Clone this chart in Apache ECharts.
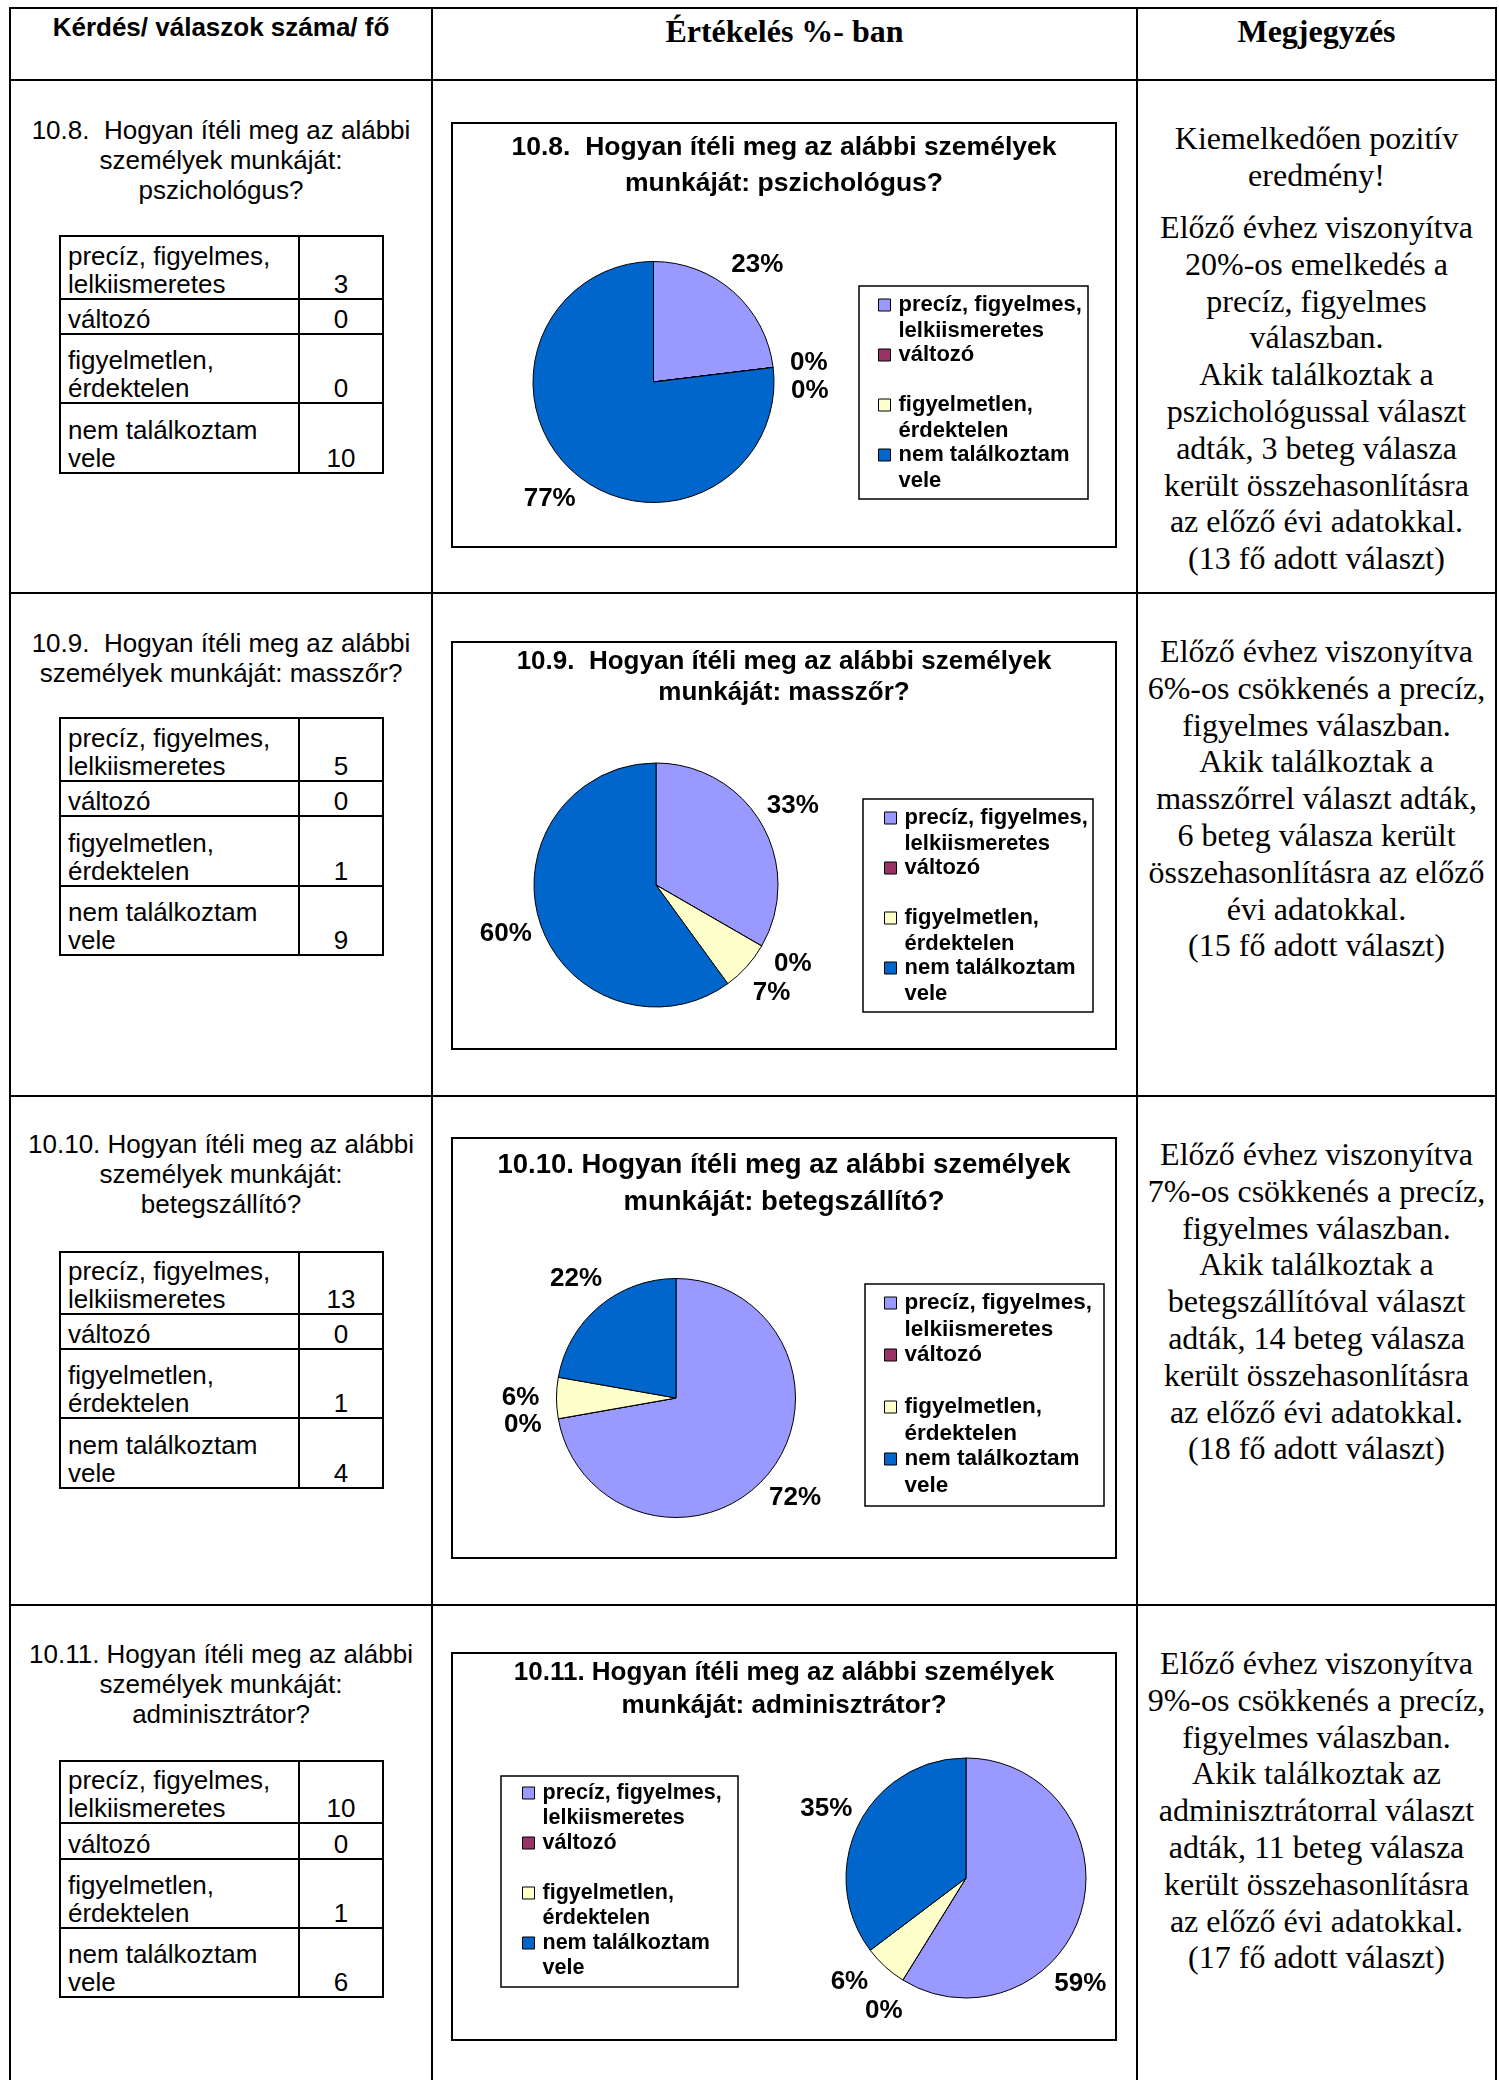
<!DOCTYPE html>
<html lang="hu">
<head>
<meta charset="utf-8">
<title>Értékelés</title>
<script src="https://cdn.jsdelivr.net/npm/echarts@6/dist/echarts.min.js"></script>
<style>
  html, body { margin: 0; padding: 0; background: #fff; }
  #page { position: relative; width: 1499px; height: 2080px; overflow: hidden; background: #fff; }
  .line { position: absolute; background: #000; }
  .txt { position: absolute; white-space: pre; color: #000; text-align: center; }
  .sans { font-family: "Liberation Sans", Arial, sans-serif; }
  .serif { font-family: "Liberation Serif", "Times New Roman", serif; }
  .chart { position: absolute; }
</style>
</head>
<body>
<div id="page"></div>
<script>
// ---- data ---------------------------------------------------------------
const headers = ['Kérdés/ válaszok száma/ fő', 'Értékelés %- ban', 'Megjegyzés'];

const categories = [
  'precíz, figyelmes,\nlelkiismeretes',
  'változó',
  'figyelmetlen,\nérdektelen',
  'nem találkoztam\nvele'
];

const sliceColors = ['#9999FF', '#993366', '#FFFFCC', '#0066CC'];

const psychologistCounts = [3, 0, 0, 10];
const masseurCounts = [5, 0, 1, 9];
const transporterCounts = [13, 0, 1, 4];
const administratorCounts = [10, 0, 1, 6];

const questionLines = [
  ['10.8.  Hogyan ítéli meg az alábbi', 'személyek munkáját:', 'pszichológus?'],
  ['10.9.  Hogyan ítéli meg az alábbi', 'személyek munkáját: masszőr?'],
  ['10.10. Hogyan ítéli meg az alábbi', 'személyek munkáját:', 'betegszállító?'],
  ['10.11. Hogyan ítéli meg az alábbi', 'személyek munkáját:', 'adminisztrátor?']
];

const chartTitles = [
  ['10.8.  Hogyan ítéli meg az alábbi személyek', 'munkáját: pszichológus?'],
  ['10.9.  Hogyan ítéli meg az alábbi személyek', 'munkáját: masszőr?'],
  ['10.10. Hogyan ítéli meg az alábbi személyek', 'munkáját: betegszállító?'],
  ['10.11. Hogyan ítéli meg az alábbi személyek', 'munkáját: adminisztrátor?']
];

const commentParagraphs = [
  [
    ['Kiemelkedően pozitív', 'eredmény!'],
    ['Előző évhez viszonyítva', '20%-os emelkedés a', 'precíz, figyelmes', 'válaszban.',
     'Akik találkoztak a', 'pszichológussal választ', 'adták, 3 beteg válasza',
     'került összehasonlításra', 'az előző évi adatokkal.', '(13 fő adott választ)']
  ],
  [
    ['Előző évhez viszonyítva', '6%-os csökkenés a precíz,', 'figyelmes válaszban.',
     'Akik találkoztak a', 'masszőrrel választ adták,', '6 beteg válasza került',
     'összehasonlításra az előző', 'évi adatokkal.', '(15 fő adott választ)']
  ],
  [
    ['Előző évhez viszonyítva', '7%-os csökkenés a precíz,', 'figyelmes válaszban.',
     'Akik találkoztak a', 'betegszállítóval választ', 'adták, 14 beteg válasza',
     'került összehasonlításra', 'az előző évi adatokkal.', '(18 fő adott választ)']
  ],
  [
    ['Előző évhez viszonyítva', '9%-os csökkenés a precíz,', 'figyelmes válaszban.',
     'Akik találkoztak az', 'adminisztrátorral választ', 'adták, 11 beteg válasza',
     'került összehasonlításra', 'az előző évi adatokkal.', '(17 fő adott választ)']
  ]
];

const rowCounts = [psychologistCounts, masseurCounts, transporterCounts, administratorCounts];

// ---- layout -------------------------------------------------------------
const FRAME_X = [10, 432, 1137, 1496];
const FRAME_Y = [8, 80, 593, 1096, 1605];
const PAGE_H = 2080;
const TABLE_X = [60, 299, 383];
const CHART_LEFT = 451, CHART_W = 666;
const SANS = '"Liberation Sans", Arial, sans-serif';

const rowLayout = [
  { qTop: 115, tableLines: [236, 299, 334, 403, 473], commentTops: [120, 209],
    chart: { top: 122, height: 426, titleTop: 8, titleLH: 36, titleSize: 26.5,
             cx: 202.5, cy: 260, r: 120.5, legendLeft: 427, legendFirst: 183,
             legendLH: 26, legendPitch: 50, legendSize: 22, legendBox: [408, 164, 229, 213] } },
  { qTop: 628, tableLines: [718, 781, 816, 886, 955], commentTops: [633],
    chart: { top: 641, height: 409, titleTop: 5.5, titleLH: 31, titleSize: 26,
             cx: 205, cy: 244, r: 122, legendLeft: 433, legendFirst: 177,
             legendLH: 26, legendPitch: 50, legendSize: 22, legendBox: [412, 158, 230, 213] } },
  { qTop: 1129, tableLines: [1252, 1314, 1349, 1418, 1488], commentTops: [1136],
    chart: { top: 1137, height: 422, titleTop: 9.5, titleLH: 37, titleSize: 27.5,
             cx: 225, cy: 261, r: 119.5, legendLeft: 433, legendFirst: 166,
             legendLH: 27, legendPitch: 52, legendSize: 22.5, legendBox: [414, 147, 239, 222] } },
  { qTop: 1639, tableLines: [1761, 1823, 1859, 1928, 1997], commentTops: [1645],
    chart: { top: 1652, height: 389, titleTop: 4.5, titleLH: 33, titleSize: 26,
             cx: 515, cy: 226, r: 120, legendLeft: 71, legendFirst: 141,
             legendLH: 25.5, legendPitch: 50, legendSize: 21.5, legendBox: [50, 124, 237, 211] } }
];

// ---- helpers ------------------------------------------------------------
const page = document.getElementById('page');

function hLine(x1, x2, y, w = 2) {
  const d = document.createElement('div');
  d.className = 'line';
  Object.assign(d.style, { left: x1 + 'px', top: (y - w / 2) + 'px', width: (x2 - x1) + 'px', height: w + 'px' });
  page.appendChild(d);
}
function vLine(x, y1, y2, w = 2) {
  const d = document.createElement('div');
  d.className = 'line';
  Object.assign(d.style, { left: (x - w / 2) + 'px', top: y1 + 'px', width: w + 'px', height: (y2 - y1) + 'px' });
  page.appendChild(d);
}
function textBlock(lines, left, width, top, family, size, lh, weight) {
  const d = document.createElement('div');
  d.className = 'txt ' + family;
  Object.assign(d.style, {
    left: left + 'px', top: top + 'px', width: width + 'px',
    fontSize: size + 'px', lineHeight: lh + 'px', fontWeight: weight || 'normal'
  });
  d.textContent = lines.join('\n');
  page.appendChild(d);
}
function cell(str, left, width, top, height, align) {
  const d = document.createElement('div');
  d.className = 'sans';
  Object.assign(d.style, {
    position: 'absolute', left: left + 'px', top: top + 'px', width: width + 'px', height: height + 'px',
    display: 'flex', flexDirection: 'column', justifyContent: 'flex-end', textAlign: align,
    fontSize: '26px', lineHeight: '28px', whiteSpace: 'pre', color: '#000'
  });
  d.textContent = str;
  page.appendChild(d);
}

// ---- outer frame --------------------------------------------------------
FRAME_Y.forEach(y => hLine(FRAME_X[0] - 1, FRAME_X[3] + 1, y));
FRAME_X.forEach(x => vLine(x, FRAME_Y[0] - 1, PAGE_H));

textBlock([headers[0]], FRAME_X[0], FRAME_X[1] - FRAME_X[0], 12, 'sans', 26, 30, 'bold');
textBlock([headers[1]], FRAME_X[1], FRAME_X[2] - FRAME_X[1], 13, 'serif', 32, 36, 'bold');
textBlock([headers[2]], FRAME_X[2], FRAME_X[3] - FRAME_X[2], 13, 'serif', 32, 36, 'bold');

// ---- count table of one question -----------------------------------------
function drawCountTable(counts, ys) {
  ys.forEach(y => hLine(TABLE_X[0] - 1, TABLE_X[2] + 1, y));
  TABLE_X.forEach(x => vLine(x, ys[0] - 1, ys[ys.length - 1] + 1));
  categories.forEach((cat, k) => {
    const top = ys[k] + 1, h = ys[k + 1] - ys[k] - 2;
    cell(cat, TABLE_X[0] + 8, TABLE_X[1] - TABLE_X[0] - 10, top, h, 'left');
    cell(String(counts[k]), TABLE_X[1] + 1, TABLE_X[2] - TABLE_X[1] - 2, top, h, 'center');
  });
}

// ---- pie chart of one question -------------------------------------------
function drawPie(counts, titleLines, cfg) {
  const div = document.createElement('div');
  div.className = 'chart';
  Object.assign(div.style, { left: CHART_LEFT + 'px', top: cfg.top + 'px', width: CHART_W + 'px', height: cfg.height + 'px' });
  page.appendChild(div);
  const chart = echarts.init(div, null, { renderer: 'canvas' });
  const W = CHART_W, H = cfg.height;
  const labelGap = 36;
  let placed = [];

  // Places each percentage just outside its slice, centred on the slice's
  // mid-angle ray, sliding along the ring when it collides or leaves the frame.
  function placeLabel(p) {
    const pts = p.labelLinePoints;
    if (!pts || pts.length < 2) return {};
    if (p.dataIndex === 0) placed = [];
    let ang = Math.atan2(pts[1][1] - pts[0][1], pts[1][0] - pts[0][0]);
    const d = cfg.r + labelGap;
    const hw = p.labelRect.width / 2, hh = p.labelRect.height / 2;
    const at = a => [cfg.cx + Math.cos(a) * d, cfg.cy + Math.sin(a) * d];
    let xy = at(ang), n = 0;
    while ((xy[0] + hw > W - 10 || xy[0] - hw < 10) && n < 120) {
      ang += (Math.cos(ang) >= 0 ? 1 : -1) * Math.PI / 180;
      xy = at(ang); n++;
    }
    const hits = q => placed.some(b => Math.abs(b[0] - q[0]) < b[2] + hw + 2 && Math.abs(b[1] - q[1]) < b[3] + hh + 1);
    n = 0;
    while (hits(xy) && n < 180) {
      ang += Math.PI / 180;
      xy = at(ang); n++;
    }
    placed.push([xy[0], xy[1], hw, hh]);
    return { x: xy[0], y: xy[1], align: 'center', verticalAlign: 'middle' };
  }

  // one centred title component per title line
  const titles = titleLines.map((line, k) => ({
    text: line,
    left: 'center', top: cfg.titleTop + k * cfg.titleLH, padding: 0,
    textStyle: { fontFamily: SANS, fontSize: cfg.titleSize, fontWeight: 'bold', color: '#000', lineHeight: cfg.titleLH }
  }));

  const L = cfg.legendLH;
  chart.setOption({
    animation: false,
    color: sliceColors,
    title: titles,
    legend: {
      orient: 'vertical',
      left: cfg.legendLeft,
      top: cfg.legendFirst - 1.5 * L,
      padding: 0,
      itemWidth: 12, itemHeight: 12,
      itemGap: cfg.legendPitch - 3 * L,
      icon: 'rect',
      selectedMode: false,
      data: categories,
      formatter: name => '\n' + name + (name.indexOf('\n') < 0 ? '\n' : ''),
      itemStyle: { borderColor: '#000', borderWidth: 1 },
      textStyle: { fontFamily: SANS, fontSize: cfg.legendSize, fontWeight: 'bold', color: '#000', lineHeight: L, padding: [0, 0, 0, 3] }
    },
    graphic: [
      { type: 'rect', silent: true, z: 100,
        shape: { x: 1, y: 1, width: W - 2, height: H - 2 },
        style: { fill: 'none', stroke: '#000', lineWidth: 2 } },
      { type: 'rect', silent: true, z: 100,
        shape: { x: cfg.legendBox[0], y: cfg.legendBox[1], width: cfg.legendBox[2], height: cfg.legendBox[3] },
        style: { fill: 'none', stroke: '#000', lineWidth: 1.5 } }
    ],
    series: [{
      type: 'pie',
      center: [cfg.cx, cfg.cy],
      radius: cfg.r,
      startAngle: 90,
      clockwise: true,
      avoidLabelOverlap: false,
      silent: true,
      itemStyle: { borderColor: '#000', borderWidth: 1 },
      emphasis: { disabled: true },
      label: {
        show: true, position: 'outside',
        formatter: p => Math.round(p.percent) + '%',
        fontFamily: SANS, fontSize: 26, fontWeight: 'bold', color: '#000'
      },
      labelLine: { show: true, length: 10, length2: 0, lineStyle: { width: 0, opacity: 0 } },
      labelLayout: placeLabel,
      data: categories.map((name, k) => ({ name: name, value: counts[k] }))
    }]
  });
}

// ---- rows ---------------------------------------------------------------
rowLayout.forEach((row, i) => {
  textBlock(questionLines[i], FRAME_X[0], FRAME_X[1] - FRAME_X[0], row.qTop, 'sans', 26, 30, 'normal');
  drawCountTable(rowCounts[i], row.tableLines);
  drawPie(rowCounts[i], chartTitles[i], row.chart);
  commentParagraphs[i].forEach((para, j) => {
    textBlock(para, FRAME_X[2], FRAME_X[3] - FRAME_X[2], row.commentTops[j], 'serif', 32, 36.8, 'normal');
  });
});
</script>
</body>
</html>
